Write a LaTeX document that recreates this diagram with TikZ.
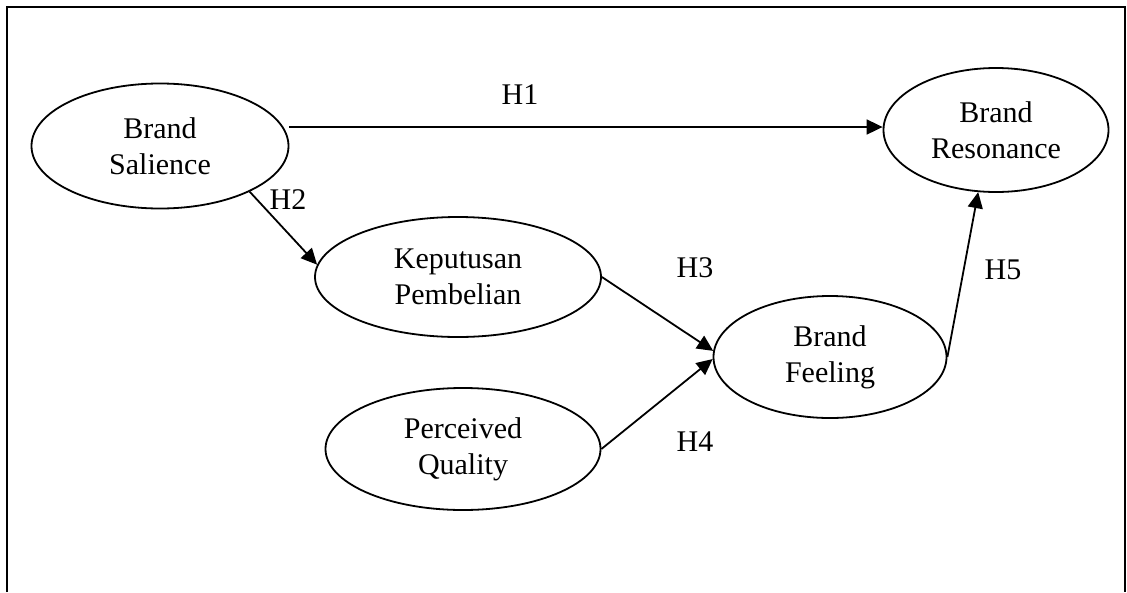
\documentclass[tikz,border=0pt]{standalone}
\usepackage{fontspec}
\setmainfont{Liberation Serif}
\usetikzlibrary{shapes.geometric,arrows.meta}
\begin{document}
\begin{tikzpicture}[x=1pt,y=-1pt,
  every node/.style={font=\fontsize{30}{36}\selectfont},
  construct/.style={ellipse,draw,line width=1.8pt,inner sep=0pt,align=center},
  path/.style={line width=1.8pt,-{Triangle[length=16pt,width=15pt]}},
  hyp/.style={inner sep=0pt}]
\useasboundingbox (0,0) rectangle (1127,592);
\draw[line width=2.2pt] (7,592) -- (7,7) -- (1125,7) -- (1125,592);

\node[construct,minimum width=257pt,minimum height=125pt] (sal) at (160,146) {Brand\\Salience};
\node[construct,minimum width=225pt,minimum height=124pt] (res) at (996,130) {Brand\\Resonance};
\node[construct,minimum width=286pt,minimum height=120pt] (kep) at (458,277) {Keputusan\\Pembelian};
\node[construct,minimum width=275pt,minimum height=122pt] (pq) at (463,449) {Perceived\\Quality};
\node[construct,minimum width=233pt,minimum height=122pt] (feel) at (830,357) {Brand\\Feeling};

\coordinate (s1) at (sal.east |- 0,127);
\coordinate (r1) at (res.west |- 0,127);
\draw[path] (s1) -- (r1);
\draw[path] (sal.-27) -- (kep.175);
\draw[path] (kep.east) -- (feel.177);
\draw[path] (pq.east) -- (feel.181);
\draw[path] (feel.east) -- (res.-106);

\node[hyp] (h1) at (520,95) {H1};
\node[hyp] (h2) at (288,200) {H2};
\node[hyp] (h3) at (695,268) {H3};
\node[hyp] (h4) at (695,442) {H4};
\node[hyp] (h5) at (1003,270) {H5};
\end{tikzpicture}
\end{document}
